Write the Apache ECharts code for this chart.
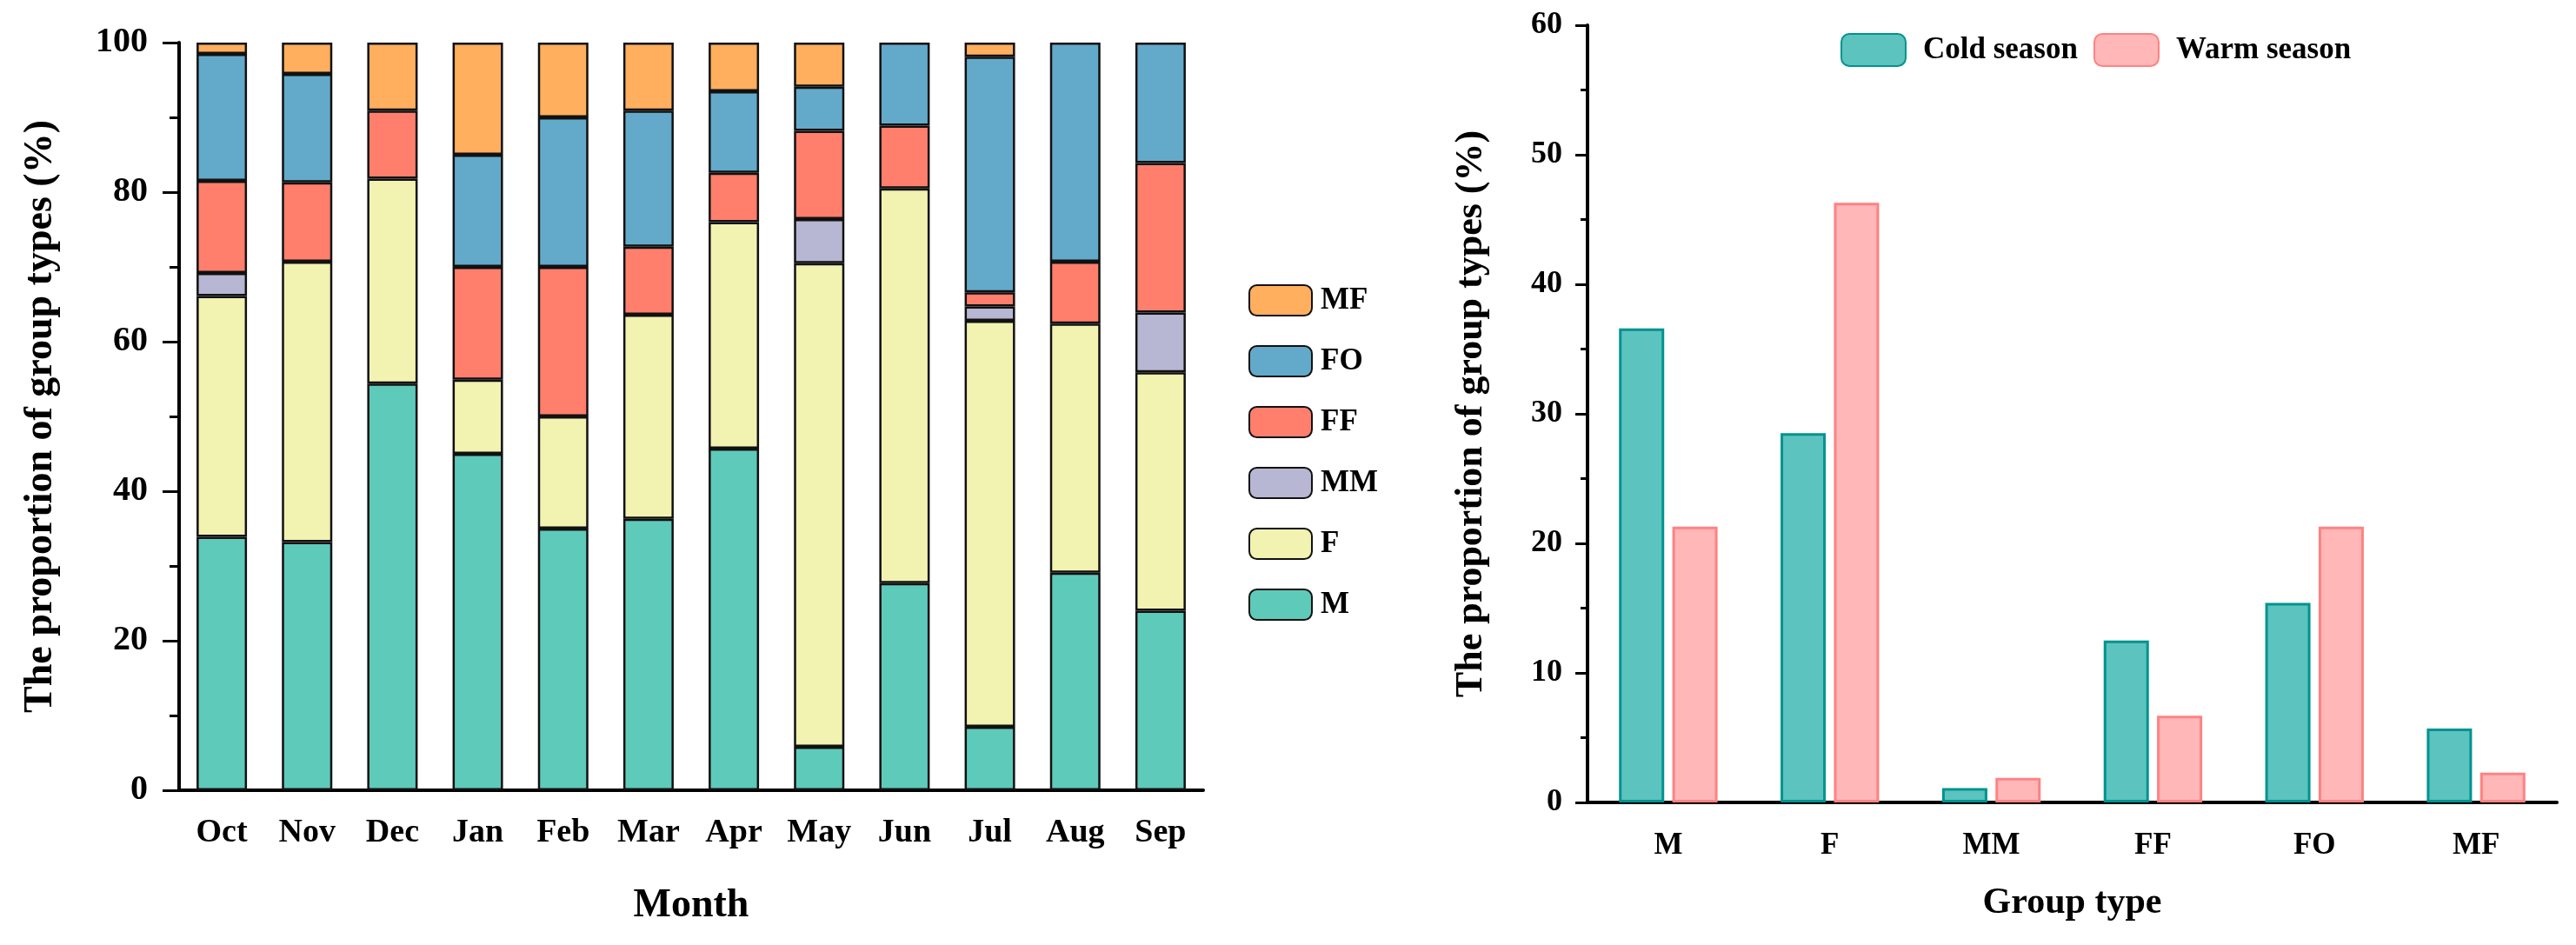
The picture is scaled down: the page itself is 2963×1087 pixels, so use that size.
<!DOCTYPE html>
<html>
<head>
<meta charset="utf-8">
<script src="https://cdn.jsdelivr.net/npm/echarts@6/dist/echarts.min.js"></script>
<style>
html,body{margin:0;padding:0;background:#fff;}
#chart{width:2963px;height:1087px;}
</style>
</head>
<body>
<div id="chart"></div>
<script>
// ---- Left chart data (monthly proportions, %) ----
var months = ['Oct','Nov','Dec','Jan','Feb','Mar','Apr','May','Jun','Jul','Aug','Sep'];
var valM  = [33.9, 33.2, 54.4, 45.0, 35.0, 36.3, 45.7, 5.8, 27.7, 8.5, 29.1, 24.0];
var valF  = [32.2, 37.5, 27.4, 9.9, 15.0, 27.3, 30.3, 64.7, 52.8, 54.3, 33.3, 31.9];
var valMM = [3.1, 0, 0, 0, 0, 0, 0, 5.9, 0, 1.9, 0, 8.0];
var valFF = [12.3, 10.6, 9.1, 15.1, 20.0, 9.1, 6.6, 11.8, 8.4, 1.9, 8.3, 20.0];
var valFO = [17.0, 14.5, 0, 15.0, 20.0, 18.2, 10.9, 5.9, 11.1, 31.5, 29.3, 16.1];
var valMF = [1.5, 4.2, 9.1, 15.0, 10.0, 9.1, 6.5, 5.9, 0, 1.9, 0, 0];
var leftTicks = [0, 20, 40, 60, 80, 100];

// ---- Right chart data (season proportions, %) ----
var groupTypes = ['M','F','MM','FF','FO','MF'];
var coldSeason = [36.6, 28.5, 1.1, 12.5, 15.4, 5.7];
var warmSeason = [21.3, 46.3, 1.9, 6.7, 21.3, 2.3];
var rightTicks = [0, 10, 20, 30, 40, 50, 60];

var FONT = '"Liberation Serif", "DejaVu Serif", serif';
var chart = echarts.init(document.getElementById('chart'), null, {renderer: 'canvas'});

function nz(arr){ return arr.map(function(v){ return v === 0 ? '-' : v; }); }

var stackDefs = [
  {name:'M',  data: valM,  color:'#5ECABA'},
  {name:'F',  data: valF,  color:'#F2F2B1'},
  {name:'MM', data: valMM, color:'#B7B7D3'},
  {name:'FF', data: valFF, color:'#FF7F6C'},
  {name:'FO', data: valFO, color:'#63AACA'},
  {name:'MF', data: valMF, color:'#FFAF5D'}
];

var series = stackDefs.map(function(d){
  return {
    name: d.name, type: 'bar', stack: 'total',
    xAxisIndex: 0, yAxisIndex: 0,
    barWidth: 58,
    data: nz(d.data),
    itemStyle: {color: d.color, borderColor: '#111', borderWidth: 2.5},
    emphasis: {disabled: true}
  };
});

series.push({
  name: 'Cold season', type: 'bar', xAxisIndex: 1, yAxisIndex: 1,
  barWidth: 52, barGap: '18%',
  data: coldSeason,
  itemStyle: {color: '#5CC3BF', borderColor: '#00938F', borderWidth: 3},
  emphasis: {disabled: true}
});
series.push({
  name: 'Warm season', type: 'bar', xAxisIndex: 1, yAxisIndex: 1,
  barWidth: 52, barGap: '18%',
  data: warmSeason,
  itemStyle: {color: '#FFB7B8', borderColor: '#FF8282', borderWidth: 3},
  emphasis: {disabled: true}
});

var axisLineStyle = {color: '#000', width: 4};

chart.setOption({
  animation: false,
  backgroundColor: '#fff',
  textStyle: {fontFamily: FONT},
  grid: [
    {left: 206, right: 1579, top: 49, bottom: 178, containLabel: false},
    {left: 1826, right: 22, top: 29, bottom: 164, containLabel: false}
  ],
  legend: [
    {
      orient: 'vertical', left: 1431, top: 322,
      itemWidth: 72, itemHeight: 35, itemGap: 33,
      data: ['MF','FO','FF','MM','F','M'],
      textStyle: {fontFamily: FONT, fontSize: 35, fontWeight: 'bold', color: '#000', padding: [0,0,0,5]},
      selectedMode: false
    },
    {
      orient: 'horizontal', left: 2112, top: 33,
      itemWidth: 74, itemHeight: 37, itemGap: 18,
      data: ['Cold season','Warm season'],
      textStyle: {fontFamily: FONT, fontSize: 35, fontWeight: 'bold', color: '#000', padding: [0,0,0,15]},
      selectedMode: false
    }
  ],
  xAxis: [
    {
      type: 'category', gridIndex: 0, data: months,
      name: 'Month', nameLocation: 'middle', nameGap: 110,
      nameTextStyle: {fontFamily: FONT, fontSize: 46, fontWeight: 'bold', color: '#000'},
      axisLine: {lineStyle: axisLineStyle},
      axisTick: {alignWithLabel: true, length: 19, lineStyle: {color: '#000', width: 3}},
      axisLabel: {fontFamily: FONT, fontSize: 38, fontWeight: 'bold', color: '#000', margin: 30},
      splitLine: {show: false}
    },
    {
      type: 'category', gridIndex: 1, data: groupTypes,
      name: 'Group type', nameLocation: 'middle', nameGap: 95,
      nameTextStyle: {fontFamily: FONT, fontSize: 42, fontWeight: 'bold', color: '#000'},
      axisLine: {lineStyle: axisLineStyle},
      axisTick: {alignWithLabel: true, length: 15, lineStyle: {color: '#000', width: 3}},
      axisLabel: {fontFamily: FONT, fontSize: 35, fontWeight: 'bold', color: '#000', margin: 32},
      splitLine: {show: false}
    }
  ],
  yAxis: [
    {
      type: 'value', gridIndex: 0, min: leftTicks[0], max: leftTicks[leftTicks.length-1], interval: 20,
      name: 'The proportion of group types (%)', nameLocation: 'middle', nameGap: 136, nameRotate: 90,
      nameTextStyle: {fontFamily: FONT, fontSize: 46, fontWeight: 'bold', color: '#000'},
      axisLine: {show: true, lineStyle: axisLineStyle},
      axisTick: {show: true, length: 19, lineStyle: {color: '#000', width: 3}},
      minorTick: {show: true, splitNumber: 2, length: 11, lineStyle: {color: '#000', width: 3}},
      axisLabel: {fontFamily: FONT, fontSize: 40, fontWeight: 'bold', color: '#000', margin: 36},
      splitLine: {show: false}
    },
    {
      type: 'value', gridIndex: 1, min: rightTicks[0], max: rightTicks[rightTicks.length-1], interval: 10,
      name: 'The proportion of group types (%)', nameLocation: 'middle', nameGap: 111, nameRotate: 90,
      nameTextStyle: {fontFamily: FONT, fontSize: 44, fontWeight: 'bold', color: '#000'},
      axisLine: {show: true, lineStyle: axisLineStyle},
      axisTick: {show: true, length: 14, lineStyle: {color: '#000', width: 3}},
      minorTick: {show: true, splitNumber: 2, length: 8, lineStyle: {color: '#000', width: 3}},
      axisLabel: {fontFamily: FONT, fontSize: 36, fontWeight: 'bold', color: '#000', margin: 29},
      splitLine: {show: false}
    }
  ],
  series: series
});
</script>
</body>
</html>
